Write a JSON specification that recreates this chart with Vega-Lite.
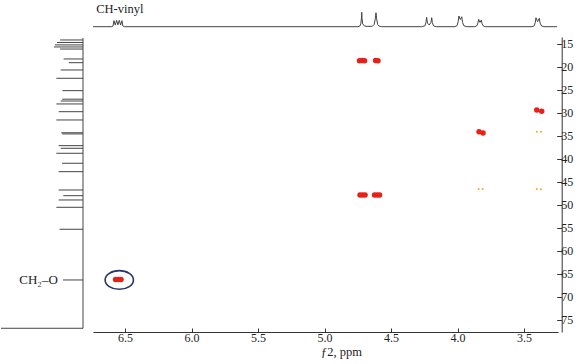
{
  "$schema": "https://vega.github.io/schema/vega-lite/v6.json",
  "padding": {"left": 0, "top": 0, "right": 5, "bottom": 5},
  "background": "white",
  "spacing": 7,
  "config": {
    "view": {"stroke": null},
    "axis": {"grid": false, "labelOverlap": false, "labelSeparation": 0}
  },
  "hconcat": [
    {
      "width": 82,
      "height": 332,
      "layer": [
        {
          "data": {"values": [
            {"f1": 14.13, "intensity": 0.79},
            {"f1": 14.67, "intensity": 0.90},
            {"f1": 15.2, "intensity": 0.97},
            {"f1": 15.65, "intensity": 1.0},
            {"f1": 16.1, "intensity": 0.79},
            {"f1": 18.26, "intensity": 0.67},
            {"f1": 19.07, "intensity": 0.49},
            {"f1": 20.65, "intensity": 0.77},
            {"f1": 22.46, "intensity": 0.92},
            {"f1": 25.15, "intensity": 0.71},
            {"f1": 27.0, "intensity": 0.72},
            {"f1": 27.4, "intensity": 0.77},
            {"f1": 28.04, "intensity": 0.92},
            {"f1": 29.72, "intensity": 0.84},
            {"f1": 31.52, "intensity": 0.92},
            {"f1": 34.3, "intensity": 0.75},
            {"f1": 34.55, "intensity": 0.72},
            {"f1": 37.1, "intensity": 0.84},
            {"f1": 37.67, "intensity": 0.77},
            {"f1": 38.76, "intensity": 0.92},
            {"f1": 40.93, "intensity": 0.72},
            {"f1": 42.76, "intensity": 0.84},
            {"f1": 46.74, "intensity": 0.84},
            {"f1": 47.98, "intensity": 0.68},
            {"f1": 48.91, "intensity": 0.84},
            {"f1": 50.5, "intensity": 0.92},
            {"f1": 55.28, "intensity": 0.81},
            {"f1": 66.3, "intensity": 0.69}
          ]},
          "mark": {"type": "rule", "color": "#444", "strokeWidth": 1},
          "encoding": {
            "y": {"field": "f1", "type": "quantitative", "scale": {"domain": [5.44, 77.61], "reverse": true, "nice": false, "zero": false}, "axis": null},
            "x": {"field": "intensity", "type": "quantitative", "scale": {"domain": [0, 2.83], "reverse": true, "nice": false, "zero": false}, "axis": null},
            "x2": {"datum": 0}
          }
        },
        {
          "data": {"values": [{"from": 13.7, "to": 76.8, "base": 0}]},
          "mark": {"type": "rule", "color": "#444", "strokeWidth": 1},
          "encoding": {
            "y": {"field": "from", "type": "quantitative"},
            "y2": {"field": "to"},
            "x": {"field": "base", "type": "quantitative"}
          }
        },
        {
          "data": {"values": [{"f1": 76.8}]},
          "mark": {"type": "rule", "color": "#444", "strokeWidth": 1},
          "encoding": {
            "y": {"field": "f1", "type": "quantitative"}
          }
        },
        {
          "data": {"values": [{"label": "CH₂–O", "f1": 66.3, "intensity": 0.87}]},
          "mark": {"type": "text", "align": "right", "baseline": "middle", "font": "Liberation Serif", "fontSize": 13, "color": "#222"},
          "encoding": {
            "y": {"field": "f1", "type": "quantitative"},
            "x": {"field": "intensity", "type": "quantitative"},
            "text": {"field": "label"}
          }
        }
      ]
    },
    {
      "vconcat": [
        {
          "width": 465,
          "height": 30,
          "layer": [
            {
              "data": {"values": [
                {"ppm": 6.7406, "intensity": 0},
                {"ppm": 6.600, "intensity": 0},
                {"ppm": 6.590, "intensity": 0.05},
                {"ppm": 6.583, "intensity": 0.42},
                {"ppm": 6.573, "intensity": 0.12},
                {"ppm": 6.563, "intensity": 0.44},
                {"ppm": 6.553, "intensity": 0.13},
                {"ppm": 6.543, "intensity": 0.44},
                {"ppm": 6.533, "intensity": 0.12},
                {"ppm": 6.523, "intensity": 0.42},
                {"ppm": 6.516, "intensity": 0.05},
                {"ppm": 6.505, "intensity": 0},
                {"ppm": 4.75, "intensity": 0},
                {"ppm": 4.735, "intensity": 0.04},
                {"ppm": 4.727, "intensity": 0.2},
                {"ppm": 4.722, "intensity": 0.6},
                {"ppm": 4.720, "intensity": 1.0},
                {"ppm": 4.718, "intensity": 0.6},
                {"ppm": 4.713, "intensity": 0.2},
                {"ppm": 4.700, "intensity": 0.05},
                {"ppm": 4.680, "intensity": 0.02},
                {"ppm": 4.640, "intensity": 0.03},
                {"ppm": 4.627, "intensity": 0.15},
                {"ppm": 4.618, "intensity": 0.55},
                {"ppm": 4.613, "intensity": 0.97},
                {"ppm": 4.608, "intensity": 0.55},
                {"ppm": 4.600, "intensity": 0.15},
                {"ppm": 4.590, "intensity": 0.04},
                {"ppm": 4.570, "intensity": 0},
                {"ppm": 4.270, "intensity": 0},
                {"ppm": 4.245, "intensity": 0.06},
                {"ppm": 4.237, "intensity": 0.3},
                {"ppm": 4.232, "intensity": 0.65},
                {"ppm": 4.226, "intensity": 0.25},
                {"ppm": 4.213, "intensity": 0.12},
                {"ppm": 4.200, "intensity": 0.28},
                {"ppm": 4.194, "intensity": 0.625},
                {"ppm": 4.189, "intensity": 0.28},
                {"ppm": 4.180, "intensity": 0.05},
                {"ppm": 4.160, "intensity": 0},
                {"ppm": 4.020, "intensity": 0},
                {"ppm": 4.003, "intensity": 0.08},
                {"ppm": 3.995, "intensity": 0.35},
                {"ppm": 3.989, "intensity": 0.74},
                {"ppm": 3.979, "intensity": 0.5},
                {"ppm": 3.968, "intensity": 0.69},
                {"ppm": 3.962, "intensity": 0.3},
                {"ppm": 3.952, "intensity": 0.06},
                {"ppm": 3.930, "intensity": 0},
                {"ppm": 3.870, "intensity": 0},
                {"ppm": 3.855, "intensity": 0.06},
                {"ppm": 3.847, "intensity": 0.25},
                {"ppm": 3.841, "intensity": 0.51},
                {"ppm": 3.831, "intensity": 0.3},
                {"ppm": 3.821, "intensity": 0.46},
                {"ppm": 3.815, "intensity": 0.2},
                {"ppm": 3.805, "intensity": 0.04},
                {"ppm": 3.790, "intensity": 0},
                {"ppm": 3.440, "intensity": 0},
                {"ppm": 3.423, "intensity": 0.06},
                {"ppm": 3.415, "intensity": 0.3},
                {"ppm": 3.410, "intensity": 0.62},
                {"ppm": 3.398, "intensity": 0.35},
                {"ppm": 3.385, "intensity": 0.58},
                {"ppm": 3.379, "intensity": 0.25},
                {"ppm": 3.368, "intensity": 0.05},
                {"ppm": 3.350, "intensity": 0},
                {"ppm": 3.252, "intensity": 0}
              ]},
              "mark": {"type": "line", "color": "#444", "strokeWidth": 1},
              "encoding": {
                "x": {"field": "ppm", "type": "quantitative", "scale": {"domain": [3.2444, 6.7406], "reverse": true, "nice": false, "zero": false}, "axis": null},
                "y": {"field": "intensity", "type": "quantitative", "scale": {"domain": [-0.229, 1.854], "nice": false, "zero": false}, "axis": null}
              }
            },
            {
              "data": {"values": [{"label": "CH-vinyl", "ppm": 6.717, "intensity": 0.95}]},
              "mark": {"type": "text", "align": "left", "baseline": "alphabetic", "font": "Liberation Serif", "fontSize": 12.5, "color": "#222"},
              "encoding": {
                "x": {"field": "ppm", "type": "quantitative"},
                "y": {"field": "intensity", "type": "quantitative"},
                "text": {"field": "label"}
              }
            }
          ]
        },
        {
          "width": 465,
          "height": 295,
          "layer": [
            {
              "data": {"values": [
                {"f2": 4.737, "f1": 18.63},
                {"f2": 4.718, "f1": 18.6},
                {"f2": 4.699, "f1": 18.63},
                {"f2": 4.616, "f1": 18.6},
                {"f2": 4.598, "f1": 18.63},
                {"f2": 3.838, "f1": 34.1},
                {"f2": 3.808, "f1": 34.35},
                {"f2": 3.404, "f1": 29.35},
                {"f2": 3.367, "f1": 29.63},
                {"f2": 4.733, "f1": 47.83},
                {"f2": 4.714, "f1": 47.83},
                {"f2": 4.695, "f1": 47.83},
                {"f2": 4.624, "f1": 47.83},
                {"f2": 4.605, "f1": 47.83},
                {"f2": 4.586, "f1": 47.83},
                {"f2": 6.571, "f1": 66.2},
                {"f2": 6.550, "f1": 66.2},
                {"f2": 6.530, "f1": 66.2}
              ]},
              "mark": {"type": "point", "shape": "circle", "filled": true, "size": 30, "color": "#e62117", "opacity": 1},
              "encoding": {
                "x": {
                  "field": "f2", "type": "quantitative",
                  "scale": {"domain": [3.2444, 6.7406], "reverse": true, "nice": false, "zero": false},
                  "axis": {
                    "title": "ƒ2, ppm",
                    "values": [6.5, 6.0, 5.5, 5.0, 4.5, 4.0, 3.5],
                    "format": ".1f",
                    "tickSize": -4,
                    "labelPadding": 4,
                    "titlePadding": 2,
                    "labelOverlap": false,
                    "domainColor": "#333",
                    "tickColor": "#333",
                    "labelColor": "#222",
                    "titleColor": "#222",
                    "labelFont": "Liberation Serif",
                    "labelFontSize": 12,
                    "titleFont": "Liberation Serif",
                    "titleFontSize": 12.5,
                    "titleFontWeight": "normal",
                    "titleX": 248
                  }
                },
                "y": {
                  "field": "f1", "type": "quantitative",
                  "scale": {"domain": [13.48, 77.61], "reverse": true, "nice": false, "zero": false},
                  "axis": {
                    "orient": "right",
                    "title": null,
                    "values": [15, 20, 25, 30, 35, 40, 45, 50, 55, 60, 65, 70, 75],
                    "tickCount": 13,
                    "offset": 3.7,
                    "tickSize": -5,
                    "labelPadding": 4,
                    "labelOverlap": false,
                    "labelBound": false,
                    "domainColor": "#333",
                    "tickColor": "#333",
                    "labelColor": "#222",
                    "labelFont": "Liberation Serif",
                    "labelFontSize": 12
                  }
                }
              }
            },
            {
              "data": {"values": [
                {"f2": 3.404, "f1": 34.07},
                {"f2": 3.372, "f1": 34.07},
                {"f2": 3.841, "f1": 46.52},
                {"f2": 3.811, "f1": 46.52},
                {"f2": 3.404, "f1": 46.52},
                {"f2": 3.372, "f1": 46.6}
              ]},
              "mark": {"type": "point", "shape": "circle", "filled": true, "size": 4, "color": "#f5a623", "opacity": 1},
              "encoding": {
                "x": {"field": "f2", "type": "quantitative"},
                "y": {"field": "f1", "type": "quantitative"}
              }
            },
            {
              "data": {"values": [{"f2": 6.543, "f1": 66.3}]},
              "mark": {"type": "point", "shape": "M -1 0 A 1 0.66 0 1 0 1 0 A 1 0.66 0 1 0 -1 0 Z", "filled": false, "size": 801, "stroke": "#2a3466", "strokeWidth": 1.6, "opacity": 1},
              "encoding": {
                "x": {"field": "f2", "type": "quantitative"},
                "y": {"field": "f1", "type": "quantitative"}
              }
            }
          ]
        }
      ],
      "spacing": 7
    }
  ]
}
